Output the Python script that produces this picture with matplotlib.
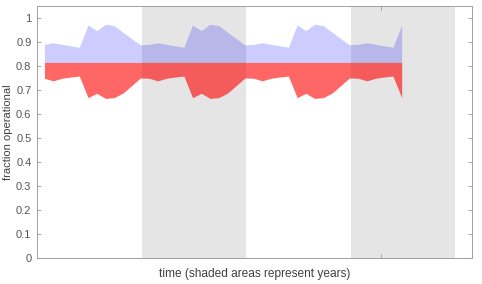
import numpy as np
import matplotlib.pyplot as plt

plt.rcParams['font.family'] = ['Liberation Sans', 'DejaVu Sans']

# monthly samples, time in days
days = 26 + 30.42 * np.arange(42)

upper = [0.890, 0.897, 0.890, 0.884, 0.878, 0.971, 0.947, 0.974, 0.968, 0.941, 0.914, 0.888,
         0.890, 0.897, 0.890, 0.884, 0.878, 0.971, 0.947, 0.974, 0.968, 0.941, 0.914, 0.888,
         0.890, 0.897, 0.890, 0.884, 0.878, 0.971, 0.947, 0.974, 0.968, 0.941, 0.914, 0.888,
         0.890, 0.897, 0.890, 0.884, 0.878, 0.971]
lower = [0.749, 0.738, 0.749, 0.754, 0.758, 0.668, 0.686, 0.665, 0.668, 0.687, 0.718, 0.750,
         0.749, 0.738, 0.749, 0.754, 0.758, 0.668, 0.686, 0.665, 0.668, 0.687, 0.718, 0.750,
         0.749, 0.738, 0.749, 0.754, 0.758, 0.668, 0.686, 0.665, 0.668, 0.687, 0.718, 0.750,
         0.749, 0.738, 0.749, 0.754, 0.758, 0.668]
mean_level = 0.815

year_spans = [(365, 730), (1095, 1460)]  # shaded years

fig = plt.figure(figsize=(4.82, 2.84), dpi=100)
ax = fig.add_axes([0.0768, 0.0915, 0.902, 0.8875])

for start, end in year_spans:
    ax.axvspan(start, end, color='#e5e5e5', lw=0, zorder=0)

ax.fill_between(days, mean_level, upper, color=(0, 0, 1), alpha=0.2, lw=0, zorder=2)
ax.fill_between(days, lower, mean_level, color=(1, 0, 0), alpha=0.6, lw=0, zorder=2)

ax.set_xlim(0, 1518)
ax.set_ylim(0, 1.05)
ax.set_yticks(np.arange(0, 1.01, 0.1))
ax.set_yticklabels(['0', '0.1', '0.2', '0.3', '0.4', '0.5', '0.6', '0.7', '0.8', '0.9', '1'])
ax.set_xticks([1200])
ax.set_xticklabels([])

ax.tick_params(direction='in', length=3, width=0.6, colors='#999999', labelcolor='#555555',
               labelsize=8, top=True, right=True, pad=4)
for s in ax.spines.values():
    s.set_color('#a0a0a0')
    s.set_linewidth(0.7)

ax.set_xlabel('time (shaded areas represent years)', fontsize=8.6, color='#404040', labelpad=3)
ax.set_ylabel('fraction operational', fontsize=8, color='#404040', labelpad=2)

fig.savefig('out.png', dpi=100)
